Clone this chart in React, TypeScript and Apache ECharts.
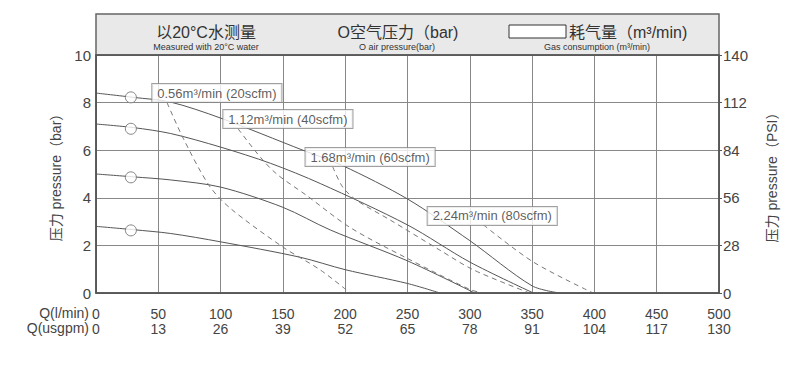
import React, { useEffect, useRef } from "react";
import * as echarts from "echarts";

const qTicks = [0, 50, 100, 150, 200, 250, 300, 350, 400, 450, 500];
const usgpmTicks = [0, 13, 26, 39, 52, 65, 78, 91, 104, 117, 130];
const barTicks = [0, 2, 4, 6, 8, 10];
const psiTicks = [0, 28, 56, 84, 112, 140];

// solid curves: constant air pressure
const curve8 = [[0, 8.4], [30, 8.22], [60, 8.02], [100, 7.35], [166, 6.0], [198, 5.35], [250, 3.95], [300, 2.2], [350, 0.3], [372, 0]];
const curve7 = [[0, 7.1], [30, 6.95], [60, 6.7], [100, 6.13], [140, 5.45], [180, 4.6], [250, 2.86], [300, 1.3], [351, 0]];
const curve5 = [[0, 5.0], [30, 4.88], [60, 4.75], [100, 4.45], [150, 3.6], [188, 2.65], [250, 1.35], [304, 0]];
const curve3 = [[0, 2.8], [30, 2.66], [60, 2.5], [100, 2.15], [164, 1.5], [200, 0.98], [250, 0.4], [276, 0]];

// dashed curves: constant air consumption
const air056 = [[57, 8.0], [70, 6.5], [91, 4.5], [108, 3.55], [150, 1.93], [180, 0.97], [204, 0]];
const air112 = [[114, 6.9], [132, 5.7], [145, 5.0], [169, 4.1], [204, 2.75], [250, 1.45], [300, 0.15], [310, 0]];
const air168 = [[190, 5.3], [198, 4.45], [209, 3.9], [236, 3.07], [276, 1.8], [303, 0.97], [348, 0]];
const air224 = [[311, 2.86], [351, 1.3], [399, 0]];

const markerPoints = [[28, 8.22], [28, 6.9], [28, 4.86], [28, 2.63]];

const airLabels = [
  { value: [97, 8.4], text: "0.56m³/min (20scfm)" },
  { value: [154, 7.31], text: "1.12m³/min (40scfm)" },
  { value: [220, 5.71], text: "1.68m³/min (60scfm)" },
  { value: [318, 3.24], text: "2.24m³/min (80scfm)" },
];

const FONT = "'Liberation Sans', Arial, 'Noto Sans CJK SC', sans-serif";

export default function App() {
  const ref = useRef<HTMLDivElement>(null);
  useEffect(() => {
    const chart = echarts.init(ref.current!, null, { renderer: "svg" });
    const solid = (data: number[][]) => ({
      type: "line",
      data,
      smooth: 0.3,
      showSymbol: false,
      symbol: "none",
      lineStyle: { color: "#555", width: 1 },
      z: 3,
    });
    const dashed = (data: number[][]) => ({
      type: "line",
      data,
      smooth: 0.3,
      showSymbol: false,
      symbol: "none",
      lineStyle: { color: "#777", width: 1, type: [5, 4] },
      z: 3,
    });
    chart.setOption({
      animation: false,
      grid: { left: 96, right: 72, top: 55, bottom: 80, show: false },
      xAxis: {
        type: "value",
        min: 0,
        max: 500,
        interval: 50,
        axisLine: { show: true, lineStyle: { color: "#555", width: 1.5 } },
        axisTick: { show: false },
        splitLine: { show: true, lineStyle: { color: "#888", width: 1 } },
        axisLabel: {
          color: "#444",
          fontFamily: FONT,
          fontSize: 14,
          lineHeight: 15,
          margin: 13,
          formatter: (v: number) => {
            const i = qTicks.indexOf(v);
            return i >= 0 ? `${qTicks[i]}\n${usgpmTicks[i]}` : "";
          },
        },
      },
      yAxis: [
        {
          type: "value",
          min: 0,
          max: 10,
          interval: 2,
          name: "压力 pressure（bar）",
          nameLocation: "middle",
          nameGap: 30,
          nameRotate: 90,
          nameTextStyle: { color: "#444", fontFamily: FONT, fontSize: 14 },
          axisLine: { show: true, lineStyle: { color: "#555", width: 1.5 } },
          axisTick: { show: false },
          splitLine: { show: true, lineStyle: { color: "#888", width: 1 } },
          axisLabel: {
            color: "#444",
            fontFamily: FONT,
            fontSize: 15,
            margin: 5,
            formatter: (v: number) => (barTicks.includes(v) ? String(v) : ""),
          },
        },
        {
          type: "value",
          min: 0,
          max: 140,
          interval: 28,
          position: "right",
          name: "压力 pressure（PSI）",
          nameLocation: "middle",
          nameGap: 46,
          nameRotate: 90,
          nameTextStyle: { color: "#444", fontFamily: FONT, fontSize: 14 },
          axisLine: { show: true, lineStyle: { color: "#555", width: 1.5 } },
          axisTick: { show: true, length: 3, lineStyle: { color: "#555" } },
          splitLine: { show: false },
          axisLabel: {
            color: "#444",
            fontFamily: FONT,
            fontSize: 15,
            margin: 4,
            formatter: (v: number) => (psiTicks.includes(v) ? String(v) : ""),
          },
        },
      ],
      series: [
        solid(curve8),
        solid(curve7),
        solid(curve5),
        solid(curve3),
        dashed(air056),
        dashed(air112),
        dashed(air168),
        dashed(air224),
        {
          type: "scatter",
          data: markerPoints,
          symbol: "circle",
          symbolSize: 11,
          itemStyle: { color: "#fff", borderColor: "#666", borderWidth: 1 },
          z: 5,
        },
        {
          type: "scatter",
          data: airLabels.map((d) => ({ value: d.value, name: d.text })),
          symbolSize: 1,
          itemStyle: { color: "rgba(0,0,0,0)" },
          label: {
            show: true,
            position: "inside",
            formatter: (p: any) => p.name,
            color: "#333",
            fontFamily: FONT,
            fontSize: 13,
            backgroundColor: "#fff",
            borderColor: "#888",
            borderWidth: 1,
            padding: [3, 5, 2, 5],
          },
          z: 10,
        },
      ],
      graphic: [
        {
          type: "rect",
          shape: { x: 96, y: 14, width: 623, height: 41 },
          style: { fill: "#e9e9e9", stroke: "#666", lineWidth: 1.5 },
          z: 1,
        },
        { type: "text", x: 206, y: 32, style: { text: "以20°C水测量", fill: "#333", font: `16px ${FONT}`, textAlign: "center", textVerticalAlign: "middle" }, z: 2 },
        { type: "text", x: 206, y: 47, style: { text: "Measured with 20°C water", fill: "#333", font: `9px ${FONT}`, textAlign: "center", textVerticalAlign: "middle" }, z: 2 },
        { type: "text", x: 398, y: 32, style: { text: "O空气压力（bar)", fill: "#333", font: `16px ${FONT}`, textAlign: "center", textVerticalAlign: "middle" }, z: 2 },
        { type: "text", x: 397, y: 47, style: { text: "O air pressure(bar)", fill: "#333", font: `9px ${FONT}`, textAlign: "center", textVerticalAlign: "middle" }, z: 2 },
        { type: "rect", shape: { x: 509, y: 25, width: 57, height: 13 }, style: { fill: "#fff", stroke: "#333", lineWidth: 1 }, z: 2 },
        { type: "text", x: 569, y: 32, style: { text: "耗气量（m³/min)", fill: "#333", font: `16px ${FONT}`, textAlign: "left", textVerticalAlign: "middle" }, z: 2 },
        { type: "text", x: 597, y: 47, style: { text: "Gas consumption (m³/min)", fill: "#333", font: `9px ${FONT}`, textAlign: "center", textVerticalAlign: "middle" }, z: 2 },
        { type: "text", x: 89, y: 313, style: { text: "Q(l/min)", fill: "#444", font: `14px ${FONT}`, textAlign: "right", textVerticalAlign: "middle" } },
        { type: "text", x: 89, y: 328, style: { text: "Q(usgpm)", fill: "#444", font: `14px ${FONT}`, textAlign: "right", textVerticalAlign: "middle" } },
        {
          type: "rect",
          shape: { x: 96, y: 55, width: 623, height: 238 },
          style: { fill: "none", stroke: "#555", lineWidth: 1.5 },
          z: 20,
          silent: true,
        },
      ],
    });
    return () => chart.dispose();
  }, []);
  return (
    <div
      ref={ref}
      style={{ position: "fixed", left: 0, top: 0, width: 791, height: 373, background: "#fff" }}
    />
  );
}
